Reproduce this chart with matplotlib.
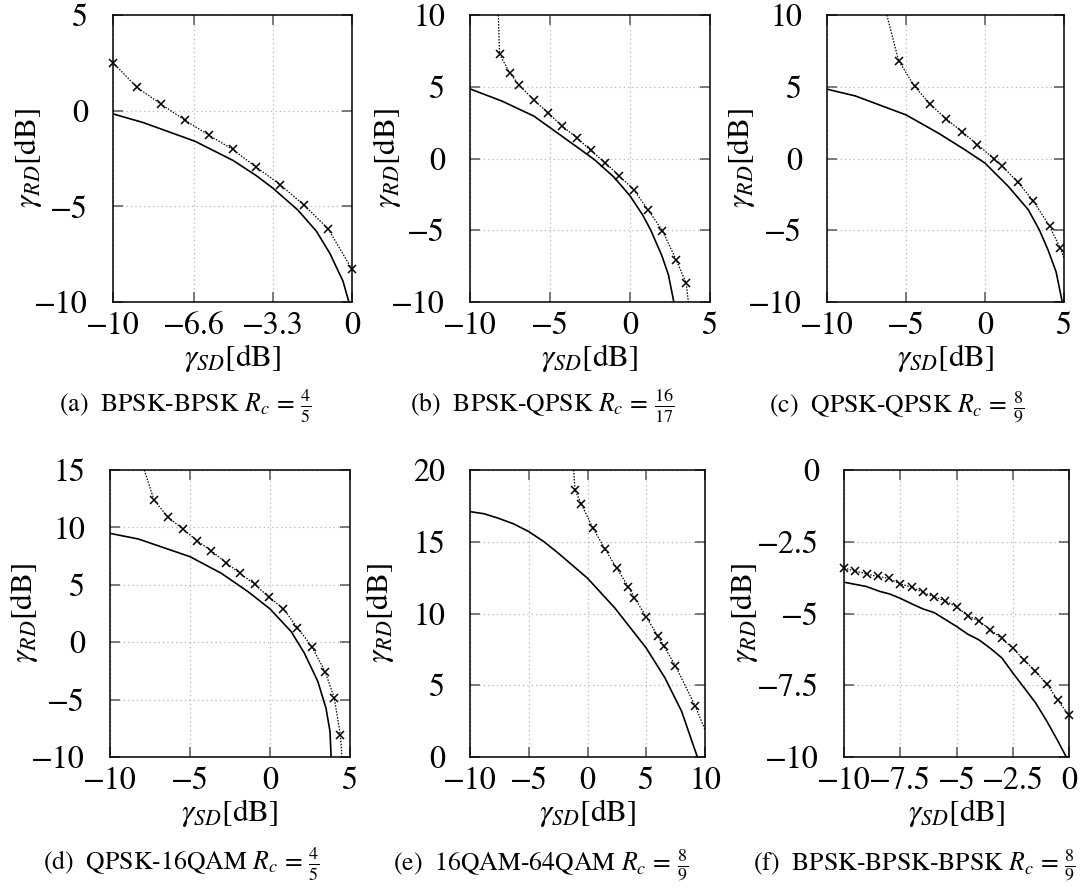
import matplotlib
matplotlib.use("Agg")
import matplotlib.pyplot as plt
from matplotlib.ticker import FixedLocator, FuncFormatter

plt.rcParams["font.family"] = ["STIXGeneral", "DejaVu Serif"]
plt.rcParams["mathtext.fontset"] = "stix"

# (a) BPSK-BPSK
a_bound_x = [-10, -8.74, -6.57, -4.98, -4.0, -3.31, -2.26, -1.49, -0.93, -0.38, -0.13]
a_bound_y = [-0.17, -0.62, -1.6, -2.6, -3.4, -4.05, -5.2, -6.3, -7.45, -8.9, -10]
a_sim_x = [-10, -9, -8, -7, -6, -5, -4, -3, -2, -1, 0]
a_sim_y = [2.51, 1.22, 0.35, -0.49, -1.27, -2.02, -2.96, -3.87, -4.95, -6.17, -8.3]
a_xticks = [-10, -6.6, -3.3, 0]
a_yticks = [-10, -5, 0, 5]

# (b) BPSK-QPSK
b_bound_x = [-10, -8, -6, -4, -3, -2.2, -1, 0, 0.8, 1.3, 2.0, 2.4, 2.74]
b_bound_y = [4.85, 4.0, 2.95, 1.35, 0.55, -0.1, -1.3, -2.6, -3.95, -5.0, -6.8, -8.1, -10]
b_sim_x = [-8.15, -7.51, -6.92, -6.01, -5.12, -4.24, -3.33, -2.46, -1.54, -0.67, 0.24, 1.12, 2.03, 2.90, 3.51]
b_sim_y = [7.26, 5.96, 5.10, 4.08, 3.18, 2.25, 1.46, 0.56, -0.30, -1.21, -2.18, -3.57, -5.03, -7.10, -8.68]
b_sim_ends = [(-8.23, 10), (3.65, -10)]
b_xticks = [-10, -5, 0, 5]
b_yticks = [-10, -5, 0, 5, 10]

# (c) QPSK-QPSK
c_bound_x = [-10, -8.21, -5, -2.94, -1.26, 0, 1.48, 2.74, 3.45, 4.0, 4.5, 4.89]
c_bound_y = [4.83, 4.36, 3.04, 1.76, 0.60, -0.32, -1.95, -3.57, -5.0, -6.4, -7.9, -10]
c_sim_x = [-5.47, -4.46, -3.47, -2.48, -1.47, -0.48, 0.55, 1.06, 2.07, 3.06, 4.09, 4.77]
c_sim_y = [6.82, 5.03, 3.78, 2.78, 1.88, 0.97, 0.0, -0.49, -1.65, -2.95, -4.73, -6.26]
c_sim_ends = [(-6.21, 10), (5, -6.94)]
c_xticks = [-10, -5, 0, 5]
c_yticks = [-10, -5, 0, 5, 10]

# (d) QPSK-16QAM
d_bound_x = [-10, -8.23, -5, -3.04, -1.38, 0, 1.32, 2.15, 2.99, 3.5, 3.75, 3.82]
d_bound_y = [9.48, 8.99, 7.45, 6.0, 4.41, 2.9, 0.93, -0.96, -3.42, -5.75, -7.77, -10]
d_sim_x = [-7.24, -6.36, -5.45, -4.54, -3.66, -2.75, -1.88, -0.96, -0.08, 0.83, 1.70, 2.61, 3.46, 4.02, 4.40]
d_sim_y = [12.36, 10.87, 9.86, 8.82, 7.95, 6.93, 6.0, 5.05, 3.94, 2.93, 1.28, -0.38, -2.61, -4.87, -8.11]
d_sim_ends = [(-7.86, 15), (4.5, -10)]
d_xticks = [-10, -5, 0, 5]
d_yticks = [-10, -5, 0, 5, 10, 15]

# (e) 16QAM-64QAM
e_bound_x = [-10, -8.8, -7.59, -6.3, -5, -3.7, -2.48, 0, 2.34, 5, 6.6, 8.01, 9.35]
e_bound_y = [17.1, 16.95, 16.64, 16.25, 15.71, 15.0, 14.2, 12.46, 10.37, 7.59, 5.5, 3.18, 0]
e_sim_x = [-1.06, -0.52, 0.47, 1.49, 2.48, 3.48, 3.99, 5.01, 5.97, 6.48, 7.48, 9.18]
e_sim_y = [18.61, 17.61, 15.94, 14.50, 13.16, 11.86, 11.11, 9.74, 8.45, 7.75, 6.36, 3.53]
e_sim_ends = [(-1.18, 20), (10, 1.90)]
e_xticks = [-10, -5, 0, 5, 10]
e_yticks = [0, 5, 10, 15, 20]

# (f) BPSK-BPSK-BPSK
f_bound_x = [-10, -9.0, -8.41, -7.97, -7.5, -7.0, -6.49, -5.99, -5.0, -4.5, -4.0, -3.5, -2.98, -2.49, -2.0, -1.48, -0.98, -0.49, -0.12]
f_bound_y = [-3.91, -4.06, -4.23, -4.32, -4.47, -4.66, -4.84, -4.97, -5.45, -5.72, -5.92, -6.21, -6.55, -7.08, -7.58, -8.12, -8.76, -9.45, -10]
f_sim_x = [-10, -9.5, -9, -8.5, -8, -7.5, -7, -6.5, -6, -5.5, -5, -4.5, -4, -3.5, -3, -2.5, -2, -1.5, -1, -0.5, 0]
f_sim_y = [-3.42, -3.52, -3.62, -3.71, -3.78, -3.97, -4.08, -4.26, -4.42, -4.56, -4.77, -5.07, -5.27,
           -5.56, -5.87, -6.21, -6.61, -7.02, -7.44, -8.02, -8.55]
f_xticks = [-10, -7.5, -5, -2.5, 0]
f_yticks = [-10, -7.5, -5, -2.5, 0]

captions = [
    r"(a)  BPSK-BPSK $R_c\,=\,\frac{4}{5}$",
    r"(b)  BPSK-QPSK $R_c\,=\,\frac{16}{17}$",
    r"(c)  QPSK-QPSK $R_c\,=\,\frac{8}{9}$",
    r"(d)  QPSK-16QAM $R_c\,=\,\frac{4}{5}$",
    r"(e)  16QAM-64QAM $R_c\,=\,\frac{8}{9}$",
    r"(f)  BPSK-BPSK-BPSK $R_c\,=\,\frac{8}{9}$",
]

panels = [
    (a_bound_x, a_bound_y, a_sim_x, a_sim_y, None, a_xticks, a_yticks),
    (b_bound_x, b_bound_y, b_sim_x, b_sim_y, b_sim_ends, b_xticks, b_yticks),
    (c_bound_x, c_bound_y, c_sim_x, c_sim_y, c_sim_ends, c_xticks, c_yticks),
    (d_bound_x, d_bound_y, d_sim_x, d_sim_y, d_sim_ends, d_xticks, d_yticks),
    (e_bound_x, e_bound_y, e_sim_x, e_sim_y, e_sim_ends, e_xticks, e_yticks),
    (f_bound_x, f_bound_y, f_sim_x, f_sim_y, None, f_xticks, f_yticks),
]

W, H = 1091, 889
# axes boxes in pixels: left, top, right, bottom
boxes = [(113, 15, 352, 302), (470, 15, 710, 302), (827, 15, 1064, 302),
         (110, 470, 350, 757), (470, 470, 705, 757), (844, 470, 1069, 757)]
ylab_off = [69, 67, 70, 70, 74, 84]
cap_pos = [(185, 412), (542, 412), (897, 412), (181, 870), (541, 870), (914, 870)]

fig = plt.figure(figsize=(W / 100, H / 100), dpi=100)

fmt = FuncFormatter(lambda v, _: f"{v:g}".replace("-", "\u2212"))

for i, (bx, by, sx, sy, ends, xt, yt) in enumerate(panels):
    l, t, r, b = boxes[i]
    ax = fig.add_axes([l / W, 1 - b / H, (r - l) / W, (b - t) / H])
    ax.plot(bx, by, color="black", lw=1.2, zorder=3)
    if ends:
        lx = [ends[0][0]] + sx + [ends[1][0]]
        ly = [ends[0][1]] + sy + [ends[1][1]]
    else:
        lx, ly = sx, sy
    ax.plot(lx, ly, color="black", lw=0.9, linestyle=(0, (1.2, 1.2)), zorder=3)
    ax.plot(sx, sy, linestyle="none", marker="x", ms=6, mew=1.1, color="black", zorder=4, clip_on=False)

    ax.set_xlim(xt[0], xt[-1])
    ax.set_ylim(yt[0], yt[-1])
    ax.xaxis.set_major_locator(FixedLocator(xt))
    ax.yaxis.set_major_locator(FixedLocator(yt))
    ax.xaxis.set_major_formatter(fmt)
    ax.yaxis.set_major_formatter(fmt)
    ax.grid(True, color="#b5b5b5", linestyle=(0, (1, 2.5)), lw=0.9)
    ax.tick_params(direction="in", length=7, width=1.1, color="0.35",
                   top=True, right=True, labelsize=23)
    ax.tick_params(axis="x", pad=7)
    ax.tick_params(axis="y", pad=18)
    for s in ax.spines.values():
        s.set_linewidth(1.1)

    ax.set_xlabel(r"$\gamma_{SD}$[dB]", fontsize=22.5)
    ax.set_ylabel(r"$\gamma_{RD}$[dB]", fontsize=22.5)
    ax.xaxis.set_label_coords(0.5, -40 / (b - t))
    ax.yaxis.set_label_coords(-ylab_off[i] / (r - l), 0.5)

    cx, cy = cap_pos[i]
    fig.text(cx / W, 1 - cy / H, captions[i], ha="center", va="baseline", fontsize=18.5)

fig.savefig("out.png", dpi=100)
